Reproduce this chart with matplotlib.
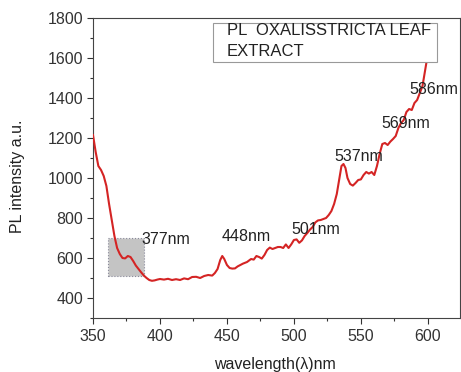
import matplotlib
matplotlib.use("Agg")
import matplotlib.pyplot as plt
from matplotlib.patches import Rectangle
from matplotlib.ticker import MultipleLocator

plt.rcParams["font.family"] = ["Liberation Sans", "DejaVu Sans"]

# ---------------------------------
# PL spectrum (wavelength nm, intensity a.u.)
# ---------------------------------

wavelength = [350, 352, 354, 356, 358, 360, 362, 364, 366, 368, 370, 372, 374, 376, 378,
              380, 382, 384, 386, 388, 390, 392, 394, 396, 398, 400, 403, 406, 409, 412,
              415, 418, 421, 424, 427, 430, 433, 436, 439, 441, 443, 445, 446.5, 448, 450,
              452, 454, 456, 458, 460, 462, 465, 468, 470, 472, 474, 476, 478, 480, 482,
              484, 486, 488, 490, 492, 494, 496, 498, 500, 502, 504, 506, 508, 510, 512,
              514, 516, 518, 520, 522, 524, 526, 528, 530, 532, 534, 535.5, 537, 538.5, 540,
              542, 544, 546, 548, 550, 552, 554, 556, 558, 560, 562, 564, 566, 568, 570,
              572, 574, 576, 578, 580, 582, 584, 586, 588, 590, 592, 594, 596, 598, 600]
intensity = [1215, 1130, 1060, 1040, 1010, 960, 870, 790, 710, 650, 620, 600, 598, 610, 605,
             585, 562, 545, 528, 512, 500, 490, 486, 488, 492, 495, 492, 496, 490, 494,
             490, 498, 494, 505, 506, 500, 510, 515, 512, 525, 545, 590, 610, 595, 565,
             550, 547, 548, 558, 565, 572, 580, 595, 592, 610, 605, 597, 615, 640, 652,
             645, 650, 655, 655, 650, 668, 650, 668, 690, 693, 676, 688, 710, 725, 742,
             755, 778, 788, 790, 795, 800, 815, 835, 870, 920, 1000, 1060, 1070, 1050, 1000,
             970, 962, 975, 990, 993, 1015, 1030, 1022, 1030, 1015, 1060, 1120, 1170, 1175, 1165,
             1182, 1195, 1210, 1250, 1275, 1290, 1330, 1345, 1340, 1375, 1390, 1425, 1460, 1540, 1620]

# peak labels: text, x, y
peak_labels = ["377nm", "448nm", "501nm", "537nm", "569nm", "586nm"]
peak_x = [386.5, 446, 498, 530.5, 565.5, 586.5]
peak_y = [690, 706, 740, 1107, 1273, 1440]

# ---------------------------------
# Plot
# ---------------------------------

fig = plt.figure(figsize=(4.61, 3.72), dpi=100)
ax = fig.add_axes([93 / 461, 1 - 318 / 372, 367 / 461, 300 / 372])

ax.plot(wavelength, intensity, color="#d42424", lw=1.5, zorder=3)

# shaded region around the 377nm shoulder
ax.add_patch(Rectangle((361.5, 510), 26.5, 192, facecolor="#c4c4c4",
                       edgecolor="#8a8a9a", linestyle=":", lw=0.8, zorder=2))

for lab, x, y in zip(peak_labels, peak_x, peak_y):
    ax.text(x, y, lab, fontsize=11.5, va="center", ha="left", color="#222222", zorder=4)

# title box
ax.add_patch(Rectangle((0.326, 0.852), 0.611, 0.132, transform=ax.transAxes,
                       facecolor="white", edgecolor="#999999", lw=0.8, zorder=5))
ax.text(0.365, 0.958, "PL  OXALISSTRICTA LEAF", transform=ax.transAxes,
        fontsize=12, va="center", ha="left", color="#222222", zorder=6)
ax.text(0.365, 0.888, "EXTRACT", transform=ax.transAxes,
        fontsize=12, va="center", ha="left", color="#222222", zorder=6)

ax.set_xlim(350, 624)
ax.set_ylim(300, 1800)
ax.xaxis.set_major_locator(MultipleLocator(50))
ax.xaxis.set_minor_locator(MultipleLocator(25))
ax.yaxis.set_major_locator(MultipleLocator(200))
ax.yaxis.set_minor_locator(MultipleLocator(100))
ax.tick_params(which="major", direction="out", length=4, width=0.8, labelsize=11.5,
               colors="#333333", pad=3)
ax.tick_params(which="minor", direction="out", length=2.5, width=0.8, colors="#333333")
ax.tick_params(axis="x", pad=4)
for s in ax.spines.values():
    s.set_color("#444444")
    s.set_linewidth(0.8)

ax.set_xlabel("wavelength(\u03bb)nm", fontsize=11.5, color="#222222")
ax.set_ylabel("PL intensity a.u.", fontsize=11.5, color="#222222")
ax.xaxis.set_label_coords(0.496, -0.13)
ax.yaxis.set_label_coords(-0.185, 0.473)

fig.savefig("out.png", dpi=100)
